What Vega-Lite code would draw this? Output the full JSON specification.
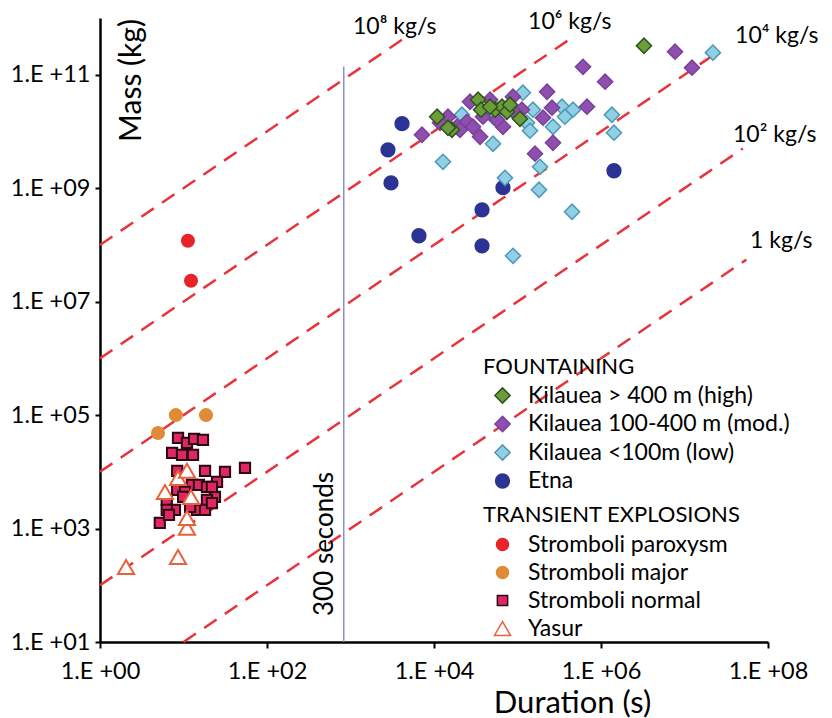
{
  "$schema": "https://vega.github.io/schema/vega-lite/v6.json",
  "width": 668,
  "height": 624,
  "autosize": "none",
  "padding": {"left": 100, "top": 18, "right": 64, "bottom": 76},
  "background": "white",
  "config": {
    "view": {"stroke": null},
    "font": "Lato",
    "axis": {"domainColor": "black", "domainWidth": 2.5, "tickColor": "black", "tickWidth": 2, "grid": false, "labelFont": "Lato", "labelFontSize": 23.5, "labelColor": "black", "titleFont": "Lato", "titleFontSize": 31, "titleFontWeight": "normal", "titleColor": "black"},
    "legend": {"labelFont": "Lato", "titleFont": "Lato", "labelFontSize": 23, "titleFontSize": 22, "titleFontWeight": "normal", "labelColor": "black", "titleColor": "black", "padding": 0, "symbolOpacity": 1, "symbolStrokeWidth": 1.5, "labelLimit": 0, "titleLimit": 0}
  },
  "datasets": {
    "rates": [
      {"rate": "1e8", "t": 1, "m": 1e8}, {"rate": "1e8", "t": 5100, "m": 5.1e11},
      {"rate": "1e6", "t": 1, "m": 1e6}, {"rate": "1e6", "t": 460000, "m": 4.6e11},
      {"rate": "1e4", "t": 1, "m": 1e4}, {"rate": "1e4", "t": 2.5e7, "m": 2.5e11},
      {"rate": "1e2", "t": 1, "m": 100}, {"rate": "1e2", "t": 5e7, "m": 5e9},
      {"rate": "1", "t": 10, "m": 10}, {"rate": "1", "t": 5.5e7, "m": 5.5e7}
    ],
    "vline": [{"t": 830, "m": 10, "m2": 1.4e11}],
    "ratelabels": [
      {"text": "10⁸ kg/s", "t": 1072, "m": 5.28e11},
      {"text": "10⁶ kg/s", "t": 134000, "m": 6.47e11},
      {"text": "10⁴ kg/s", "t": 4.03e7, "m": 3.66e11},
      {"text": "10² kg/s", "t": 3.81e7, "m": 6.58e9},
      {"text": "1 kg/s", "t": 6.09e7, "m": 8.89e7}
    ],
    "secs": [{"text": "300 seconds", "t": 495, "m": 535}],
    "fount": [
      {"c": "Etna", "t": 4140, "m": 1.37e10}, {"c": "Etna", "t": 2810, "m": 4.75e9}, {"c": "Etna", "t": 3055, "m": 1.24e9}, {"c": "Etna", "t": 67000, "m": 1.02e9},
      {"c": "Etna", "t": 37600, "m": 4.16e8}, {"c": "Etna", "t": 6600, "m": 1.45e8}, {"c": "Etna", "t": 37600, "m": 9.64e7}, {"c": "Etna", "t": 1.43e6, "m": 2.03e9},
      {"c": "Kilauea <100m (low)", "t": 2.19e7, "m": 2.45e11}, {"c": "Kilauea <100m (low)", "t": 116000, "m": 4.82e10}, {"c": "Kilauea <100m (low)", "t": 21600, "m": 1.97e10},
      {"c": "Kilauea <100m (low)", "t": 50900, "m": 6.07e9}, {"c": "Kilauea <100m (low)", "t": 12800, "m": 2.92e9}, {"c": "Kilauea <100m (low)", "t": 70800, "m": 1.52e9},
      {"c": "Kilauea <100m (low)", "t": 186000, "m": 2.38e9}, {"c": "Kilauea <100m (low)", "t": 181000, "m": 9.38e8}, {"c": "Kilauea <100m (low)", "t": 450000, "m": 3.84e8},
      {"c": "Kilauea <100m (low)", "t": 88300, "m": 6.43e7}, {"c": "Kilauea <100m (low)", "t": 341000, "m": 2.73e10}, {"c": "Kilauea <100m (low)", "t": 462000, "m": 2.42e10},
      {"c": "Kilauea <100m (low)", "t": 370000, "m": 1.82e10}, {"c": "Kilauea <100m (low)", "t": 1.35e6, "m": 1.97e10}, {"c": "Kilauea <100m (low)", "t": 1.43e6, "m": 9.5e9},
      {"c": "Kilauea <100m (low)", "t": 266000, "m": 1.21e10}, {"c": "Kilauea <100m (low)", "t": 153000, "m": 2.42e10}, {"c": "Kilauea <100m (low)", "t": 130000, "m": 1.42e10},
      {"c": "Kilauea <100m (low)", "t": 141000, "m": 1.03e10}, {"c": "Kilauea <100m (low)", "t": 58400, "m": 2.42e10}, {"c": "Kilauea <100m (low)", "t": 52300, "m": 1.75e10},
      {"c": "Kilauea 100-400 m (mod.)", "t": 609000, "m": 1.38e11}, {"c": "Kilauea 100-400 m (mod.)", "t": 1.12e6, "m": 7.53e10}, {"c": "Kilauea 100-400 m (mod.)", "t": 7.7e6, "m": 2.55e11},
      {"c": "Kilauea 100-400 m (mod.)", "t": 1.23e7, "m": 1.33e11}, {"c": "Kilauea 100-400 m (mod.)", "t": 679000, "m": 2.73e10}, {"c": "Kilauea 100-400 m (mod.)", "t": 226000, "m": 5.01e10},
      {"c": "Kilauea 100-400 m (mod.)", "t": 266000, "m": 6.32e9}, {"c": "Kilauea 100-400 m (mod.)", "t": 162000, "m": 4.05e9}, {"c": "Kilauea 100-400 m (mod.)", "t": 7180, "m": 8.75e9},
      {"c": "Kilauea 100-400 m (mod.)", "t": 14700, "m": 1.82e10}, {"c": "Kilauea 100-400 m (mod.)", "t": 27000, "m": 3.34e10}, {"c": "Kilauea 100-400 m (mod.)", "t": 24800, "m": 1.48e10},
      {"c": "Kilauea 100-400 m (mod.)", "t": 35600, "m": 8.07e9}, {"c": "Kilauea 100-400 m (mod.)", "t": 29300, "m": 1.21e10}, {"c": "Kilauea 100-400 m (mod.)", "t": 88300, "m": 4.09e10},
      {"c": "Kilauea 100-400 m (mod.)", "t": 67000, "m": 1.21e10}, {"c": "Kilauea 100-400 m (mod.)", "t": 113000, "m": 2.42e10}, {"c": "Kilauea 100-400 m (mod.)", "t": 202000, "m": 1.75e10},
      {"c": "Kilauea 100-400 m (mod.)", "t": 259000, "m": 2.62e10}, {"c": "Kilauea 100-400 m (mod.)", "t": 38600, "m": 1.82e10}, {"c": "Kilauea 100-400 m (mod.)", "t": 18800, "m": 1.21e10},
      {"c": "Kilauea 100-400 m (mod.)", "t": 56800, "m": 1.61e10}, {"c": "Kilauea 100-400 m (mod.)", "t": 98600, "m": 1.97e10}, {"c": "Kilauea 100-400 m (mod.)", "t": 46900, "m": 3.62e10},
      {"c": "Kilauea 100-400 m (mod.)", "t": 20500, "m": 1.07e10}, {"c": "Kilauea 100-400 m (mod.)", "t": 11800, "m": 1.42e10},
      {"c": "Kilauea > 400 m (high)", "t": 3.27e6, "m": 3.24e11}, {"c": "Kilauea > 400 m (high)", "t": 10900, "m": 1.82e10}, {"c": "Kilauea > 400 m (high)", "t": 16400, "m": 1.07e10},
      {"c": "Kilauea > 400 m (high)", "t": 14700, "m": 1.16e10}, {"c": "Kilauea > 400 m (high)", "t": 33700, "m": 3.62e10}, {"c": "Kilauea > 400 m (high)", "t": 36600, "m": 2.42e10},
      {"c": "Kilauea > 400 m (high)", "t": 53800, "m": 2.42e10}, {"c": "Kilauea > 400 m (high)", "t": 65200, "m": 2.73e10}, {"c": "Kilauea > 400 m (high)", "t": 74800, "m": 2.22e10},
      {"c": "Kilauea > 400 m (high)", "t": 81300, "m": 2.96e10}, {"c": "Kilauea > 400 m (high)", "t": 107000, "m": 1.67e10}, {"c": "Kilauea > 400 m (high)", "t": 46900, "m": 2.73e10}
    ],
    "trans": [
      {"c": "Stromboli paroxysm", "t": 11.3, "m": 1.18e8}, {"c": "Stromboli paroxysm", "t": 12.3, "m": 2.33e7},
      {"c": "Stromboli major", "t": 4.95, "m": 48500}, {"c": "Stromboli major", "t": 8.1, "m": 100000}, {"c": "Stromboli major", "t": 18.6, "m": 100000},
      {"c": "Stromboli normal", "t": 8.6, "m": 39600}, {"c": "Stromboli normal", "t": 11.0, "m": 32400}, {"c": "Stromboli normal", "t": 13.4, "m": 38000},
      {"c": "Stromboli normal", "t": 17.1, "m": 36500}, {"c": "Stromboli normal", "t": 7.3, "m": 21500}, {"c": "Stromboli normal", "t": 9.6, "m": 19900},
      {"c": "Stromboli normal", "t": 13.0, "m": 19900}, {"c": "Stromboli normal", "t": 8.4, "m": 10400}, {"c": "Stromboli normal", "t": 18.1, "m": 10400},
      {"c": "Stromboli normal", "t": 31.4, "m": 9950}, {"c": "Stromboli normal", "t": 54.5, "m": 11700}, {"c": "Stromboli normal", "t": 25.2, "m": 6640},
      {"c": "Stromboli normal", "t": 12.6, "m": 5870}, {"c": "Stromboli normal", "t": 15.3, "m": 5870}, {"c": "Stromboli normal", "t": 19.1, "m": 5420},
      {"c": "Stromboli normal", "t": 8.4, "m": 4800}, {"c": "Stromboli normal", "t": 10.4, "m": 4420}, {"c": "Stromboli normal", "t": 23.8, "m": 3610},
      {"c": "Stromboli normal", "t": 19.1, "m": 3190}, {"c": "Stromboli normal", "t": 6.3, "m": 3190}, {"c": "Stromboli normal", "t": 7.9, "m": 2130},
      {"c": "Stromboli normal", "t": 6.3, "m": 2130}, {"c": "Stromboli normal", "t": 14.5, "m": 2130}, {"c": "Stromboli normal", "t": 18.1, "m": 2130},
      {"c": "Stromboli normal", "t": 21.9, "m": 2820}, {"c": "Stromboli normal", "t": 5.2, "m": 1260}, {"c": "Stromboli normal", "t": 6.7, "m": 1740},
      {"c": "Stromboli normal", "t": 12.0, "m": 2400}, {"c": "Stromboli normal", "t": 9.9, "m": 3610}, {"c": "Stromboli normal", "t": 21.9, "m": 5420},
      {"c": "Yasur", "t": 2.05, "m": 210}, {"c": "Yasur", "t": 8.6, "m": 316}, {"c": "Yasur", "t": 11.0, "m": 1030}, {"c": "Yasur", "t": 11.0, "m": 1540},
      {"c": "Yasur", "t": 6.0, "m": 4420}, {"c": "Yasur", "t": 8.6, "m": 7800}, {"c": "Yasur", "t": 11.0, "m": 10400}, {"c": "Yasur", "t": 12.3, "m": 3610}
    ]
  },
  "encoding": {
    "x": {"field": "t", "type": "quantitative", "scale": {"type": "log", "domain": [1, 100000000], "nice": false},
      "axis": {"values": [1, 100, 10000, 1000000, 100000000], "labelExpr": "'1.E +' + format(round(log(datum.value)/LN10), '02d')", "tickSize": 6, "labelPadding": 11, "labelFlush": false, "labelOverlap": false,
        "title": "Duration (s)", "titleX": 472, "titleY": 61, "titleAlign": "center", "titleBaseline": "middle"}},
    "y": {"field": "m", "type": "quantitative", "scale": {"type": "log", "domain": [10, 1000000000000], "nice": false},
      "axis": {"values": [10, 1000, 100000, 10000000, 1000000000, 100000000000], "labelExpr": "'1.E +' + format(round(log(datum.value)/LN10), '02d')", "tickSize": 5, "labelPadding": 5, "labelFlush": false, "labelOverlap": false,
        "title": "Mass (kg)", "titleFontSize": 30, "titleX": 31, "titleY": 62, "titleAngle": 270, "titleAlign": "center", "titleBaseline": "middle"}}
  },
  "layer": [
    {"data": {"name": "rates"}, "mark": {"type": "line", "color": "#e8333b", "strokeWidth": 2.5, "strokeDash": [15, 10]}, "encoding": {"detail": {"field": "rate", "type": "nominal"}}},
    {"data": {"name": "vline"}, "mark": {"type": "rule", "color": "#8e8ec8", "strokeWidth": 1.5}, "encoding": {"y2": {"field": "m2"}}},
    {"data": {"name": "fount"}, "mark": {"type": "point", "filled": true, "opacity": 1, "strokeWidth": 1.5},
      "encoding": {
        "fill": {"field": "c", "type": "nominal", "scale": {"domain": ["Kilauea > 400 m (high)", "Kilauea 100-400 m (mod.)", "Kilauea <100m (low)", "Etna"], "range": ["#6e9b3c", "#8e4fae", "#8fd0e4", "#2b3494"]},
          "legend": {"title": "FOUNTAINING", "orient": "none", "legendX": 383, "legendY": 339, "symbolOffset": 8, "labelOffset": 14, "rowPadding": 4.5, "titlePadding": 5}},
        "stroke": {"field": "c", "type": "nominal", "scale": {"domain": ["Kilauea > 400 m (high)", "Kilauea 100-400 m (mod.)", "Kilauea <100m (low)", "Etna"], "range": ["#2d5517", "#7b3f9c", "#4e98b6", "#2b3494"]},
          "legend": {"title": "FOUNTAINING", "orient": "none", "legendX": 383, "legendY": 339, "symbolOffset": 8, "labelOffset": 14, "rowPadding": 4.5, "titlePadding": 5}},
        "shape": {"field": "c", "type": "nominal", "scale": {"domain": ["Kilauea > 400 m (high)", "Kilauea 100-400 m (mod.)", "Kilauea <100m (low)", "Etna"], "range": ["diamond", "diamond", "diamond", "circle"]},
          "legend": {"title": "FOUNTAINING", "orient": "none", "legendX": 383, "legendY": 339, "symbolOffset": 8, "labelOffset": 14, "rowPadding": 4.5, "titlePadding": 5}},
        "size": {"field": "c", "type": "nominal", "scale": {"type": "ordinal", "domain": ["Kilauea > 400 m (high)", "Kilauea 100-400 m (mod.)", "Kilauea <100m (low)", "Etna"], "range": [230, 230, 230, 190]},
          "legend": {"title": "FOUNTAINING", "orient": "none", "legendX": 383, "legendY": 339, "symbolOffset": 8, "labelOffset": 14, "rowPadding": 4.5, "titlePadding": 5}}
      }},
    {"data": {"name": "trans"}, "mark": {"type": "point", "filled": true, "opacity": 1, "strokeWidth": 2},
      "encoding": {
        "fill": {"field": "c", "type": "nominal", "scale": {"domain": ["Stromboli paroxysm", "Stromboli major", "Stromboli normal", "Yasur"], "range": ["#e8232a", "#df8b37", "#e02663", "#ffffff"]},
          "legend": {"title": "TRANSIENT EXPLOSIONS", "orient": "none", "legendX": 383, "legendY": 487, "symbolOffset": 8, "labelOffset": 14, "rowPadding": 4, "titlePadding": 6}},
        "stroke": {"field": "c", "type": "nominal", "scale": {"domain": ["Stromboli paroxysm", "Stromboli major", "Stromboli normal", "Yasur"], "range": ["#e8232a", "#df8b37", "#2a0a12", "#e8613a"]},
          "legend": {"title": "TRANSIENT EXPLOSIONS", "orient": "none", "legendX": 383, "legendY": 487, "symbolOffset": 8, "labelOffset": 14, "rowPadding": 4, "titlePadding": 6}},
        "shape": {"field": "c", "type": "nominal", "scale": {"domain": ["Stromboli paroxysm", "Stromboli major", "Stromboli normal", "Yasur"], "range": ["circle", "circle", "square", "triangle-up"]},
          "legend": {"title": "TRANSIENT EXPLOSIONS", "orient": "none", "legendX": 383, "legendY": 487, "symbolOffset": 8, "labelOffset": 14, "rowPadding": 4, "titlePadding": 6}},
        "size": {"field": "c", "type": "nominal", "scale": {"type": "ordinal", "domain": ["Stromboli paroxysm", "Stromboli major", "Stromboli normal", "Yasur"], "range": [145, 145, 105, 260]},
          "legend": {"title": "TRANSIENT EXPLOSIONS", "orient": "none", "legendX": 383, "legendY": 487, "symbolOffset": 8, "labelOffset": 14, "rowPadding": 4, "titlePadding": 6}}
      }},
    {"data": {"name": "ratelabels"}, "mark": {"type": "text", "align": "left", "baseline": "alphabetic", "font": "Lato", "fontSize": 23, "color": "black"}, "encoding": {"text": {"field": "text"}}},
    {"data": {"name": "secs"}, "mark": {"type": "text", "align": "center", "baseline": "middle", "angle": 270, "font": "Lato", "fontSize": 26, "color": "black"}, "encoding": {"text": {"field": "text"}}}
  ],
  "resolve": {"scale": {"fill": "independent", "stroke": "independent", "shape": "independent", "size": "independent"}}
}
